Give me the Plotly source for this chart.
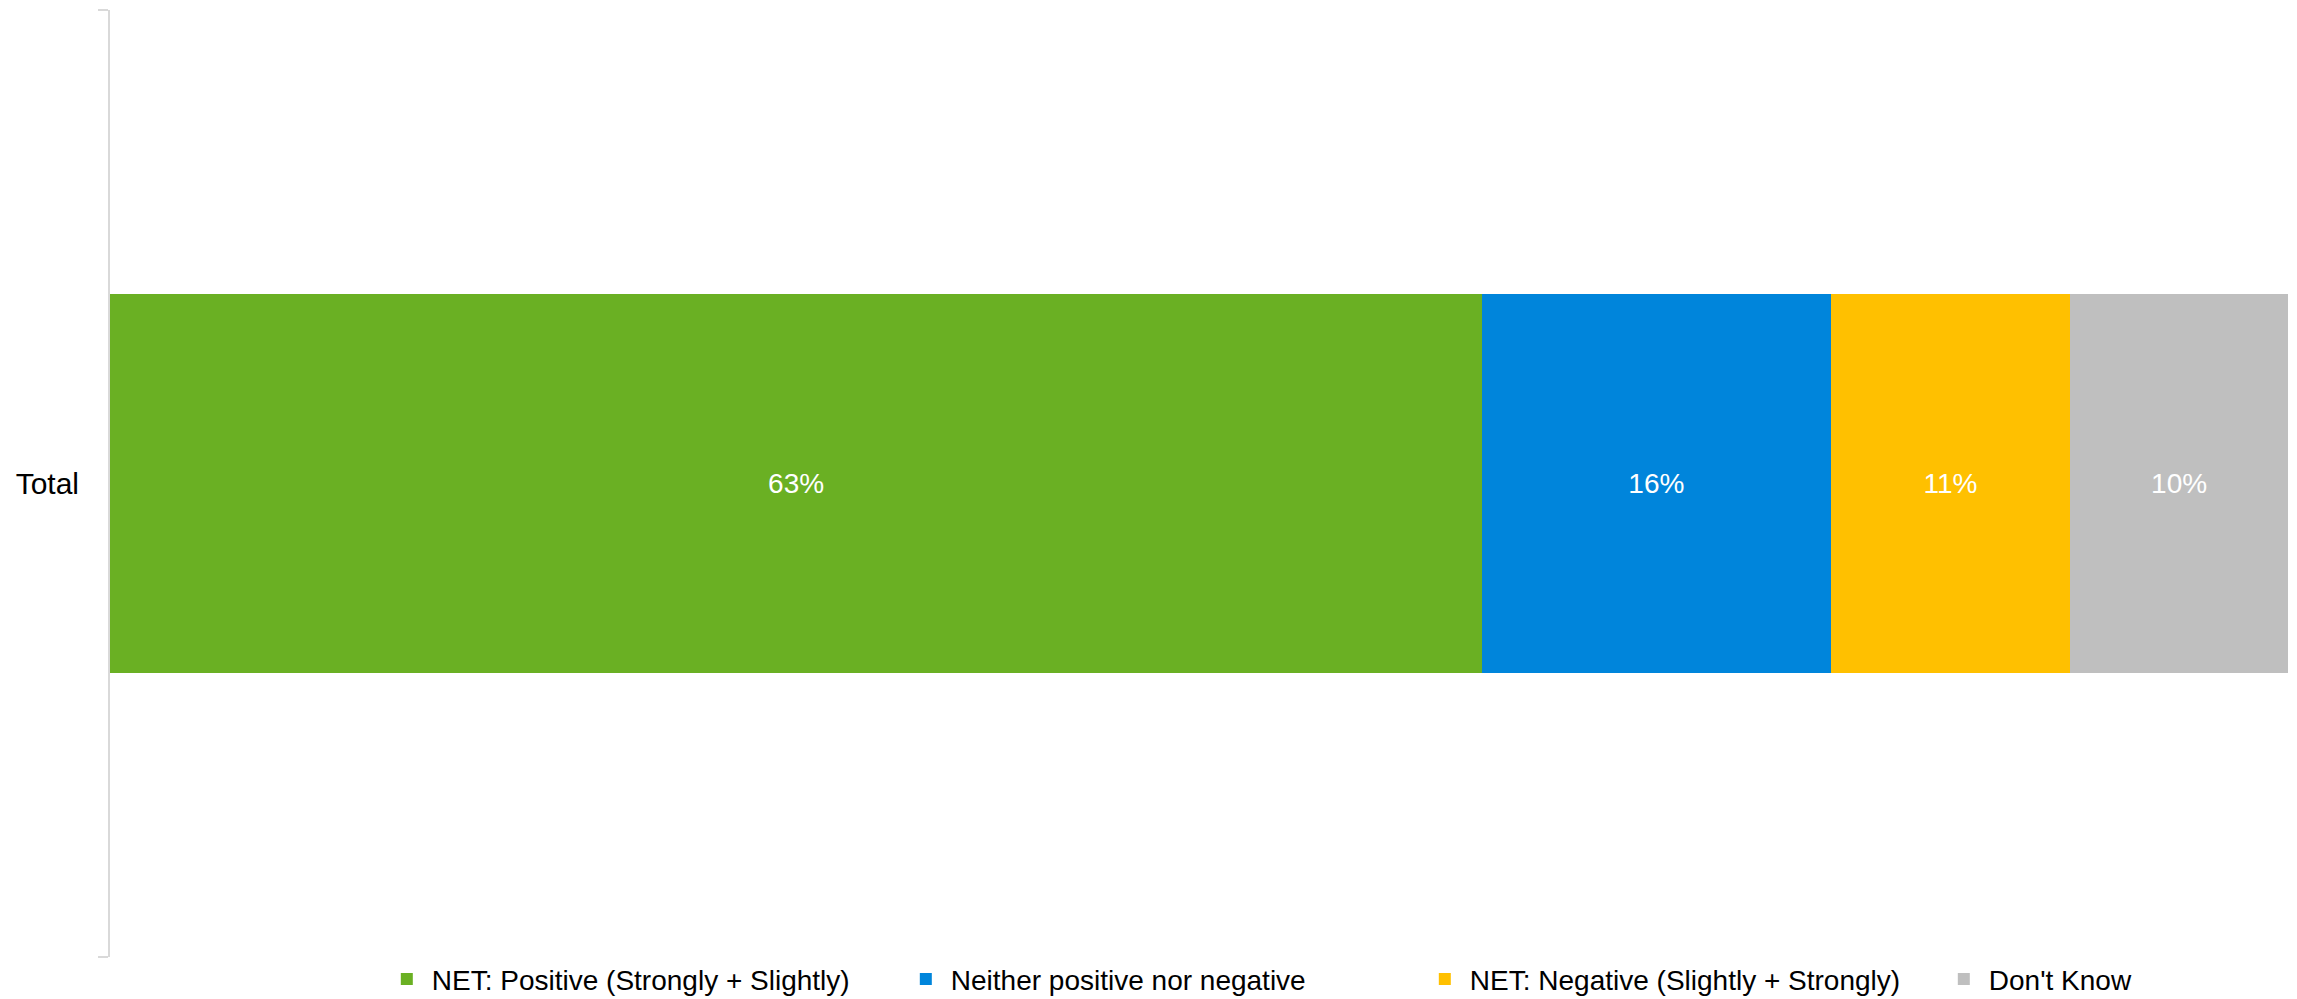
import plotly.graph_objects as go

categories = ["Total"]
series_names = [
    "NET: Positive (Strongly + Slightly)",
    "Neither positive nor negative",
    "NET: Negative (Slightly + Strongly)",
    "Don't Know",
]
series_values = [[63], [16], [11], [10]]
series_colors = ["#6AB023", "#0085DB", "#FFC000", "#BFBFBF"]

fig = go.Figure()
for name, vals, col in zip(series_names, series_values, series_colors):
    fig.add_trace(go.Bar(
        y=categories, x=vals, name=name, orientation="h",
        marker=dict(color=col, line=dict(width=0)),
        text=[f"{v}%" for v in vals], textposition="inside",
        insidetextanchor="middle",
        textfont=dict(color="white", size=28, family="Liberation Sans, Arial, sans-serif"),
        hoverinfo="skip",
    ))

fig.update_layout(
    barmode="stack",
    bargap=0.6,
    width=2289, height=991,
    margin=dict(l=102, r=9, t=2, b=42, autoexpand=False),
    paper_bgcolor="white", plot_bgcolor="white",
    font=dict(family="Liberation Sans, Arial, sans-serif", color="black"),
    showlegend=True,
    legend=dict(orientation="h", x=0.1248, xanchor="left", y=-0.0235, yanchor="middle",
                font=dict(size=28), traceorder="normal", itemclick=False,
                itemwidth=40, entrywidth=464, entrywidthmode="pixels"),
    uniformtext=dict(mode=False),
)
fig.update_xaxes(range=[0, 100], visible=False, showgrid=False, zeroline=False)
fig.update_yaxes(showline=True, linecolor="#D9D9D9", linewidth=2, ticks="outside",
                 tickson="boundaries", ticklen=10, tickcolor="#D9D9D9", tickwidth=2,
                 tickfont=dict(size=30), showgrid=False, zeroline=False,
                 ticklabelstandoff=23, automargin=False)

fig.write_html("out.html")
